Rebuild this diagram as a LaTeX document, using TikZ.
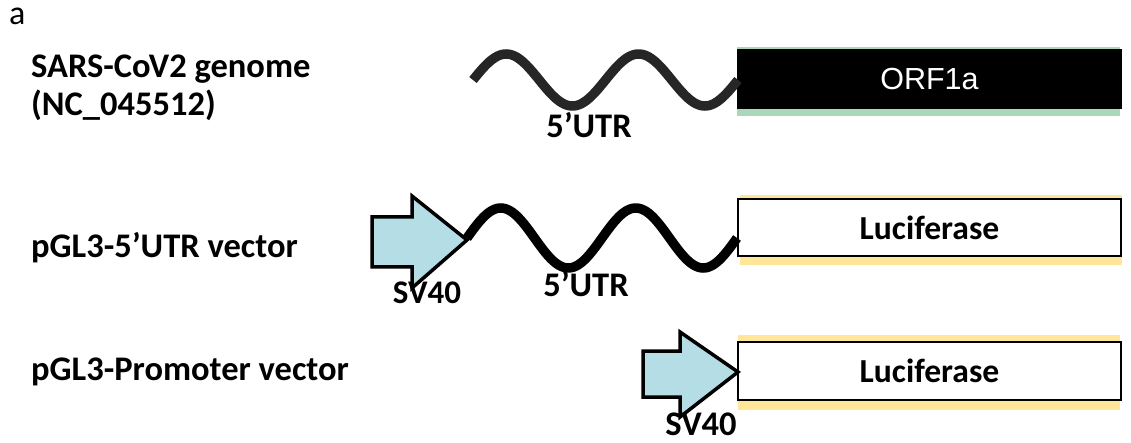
\documentclass[tikz,border=0pt]{standalone}
\usepackage{fontspec}
\setmainfont{Carlito}
\newfontfamily\orffont{Liberation Sans}
\begin{document}
\begin{tikzpicture}[x=1pt,y=-1pt,
  lbl/.style={anchor=base west,inner sep=0pt,font=\fontsize{34.5}{36}\selectfont\bfseries},
  sub/.style={anchor=base,inner sep=0pt,font=\fontsize{34.5}{36}\selectfont\bfseries},
  genebox/.style={draw=black,line width=2pt,fill=white,anchor=north west,inner sep=0pt,
    font=\fontsize{33.6}{35}\selectfont\bfseries},
  promoter/.style={draw=black,line width=3.5pt,line join=miter,fill=sv},
  wave/.style={line width=9.5pt,line cap=butt}
]
\definecolor{sv}{HTML}{B4DDE6}
\definecolor{shgreen}{HTML}{A9D8B8}
\definecolor{shyellow}{HTML}{FFE699}
\useasboundingbox (0,0) rectangle (1131,443);

% panel letter and row labels
\node[anchor=base west,inner sep=0pt,font=\fontsize{34}{34}\selectfont] (pa) at (9,25) {a};
\node[lbl] (l1) at (31,78) {SARS-CoV2 genome};
\node[lbl] (l1b) at (31,116) {(NC\_045512)};
\node[lbl] (l2) at (31,258) {pGL3-5’UTR vector};
\node[lbl] (l3) at (31,380) {pGL3-Promoter vector};

% row 1: genome
\fill[shgreen] (737,47) rectangle (1120,116);
\node[genebox,fill=black,draw=black,minimum width=383pt,minimum height=58pt,
  font=\fontsize{30.5}{32}\selectfont\orffont,text=white] (orf) at (737,49) {ORF1a};
\coordinate (w1s) at (473,80);
\draw[wave,draw=black!85] plot[domain=0:265,samples=120] ({473+\x},{80-26*sin(\x/132.5*360)});
\node[sub] (u1) at (589,138) {5’UTR};

% row 2: pGL3-5'UTR
\fill[shyellow] (740,195) rectangle (1122,265);
\node[genebox,minimum width=383pt,minimum height=57pt] (luc1) at (737,198) {Luciferase};
\draw[promoter] (372,217) -- (412,217) -- (412,196) -- (467,240) -- (412,288) -- (412,267) -- (372,267) -- cycle;
\coordinate (tip1) at (467,240);
\node[sub,font=\fontsize{33}{34}\selectfont\bfseries] (sv1) at (427,303) {SV40};
\draw[wave,draw=black] plot[domain=0:270,samples=120] ({467+\x},{238-30*sin(\x/135*360)});
\node[sub] (u2) at (586,297) {5’UTR};

% row 3: pGL3-Promoter
\fill[shyellow] (738,335) rectangle (1120,410);
\node[genebox,minimum width=383pt,minimum height=58pt] (luc2) at (737,341) {Luciferase};
\draw[promoter] (643,351) -- (680,351) -- (680,332) -- (738,372) -- (680,417) -- (680,397) -- (643,397) -- cycle;
\node[sub] (sv2) at (701,435) {SV40};
\end{tikzpicture}
\end{document}
